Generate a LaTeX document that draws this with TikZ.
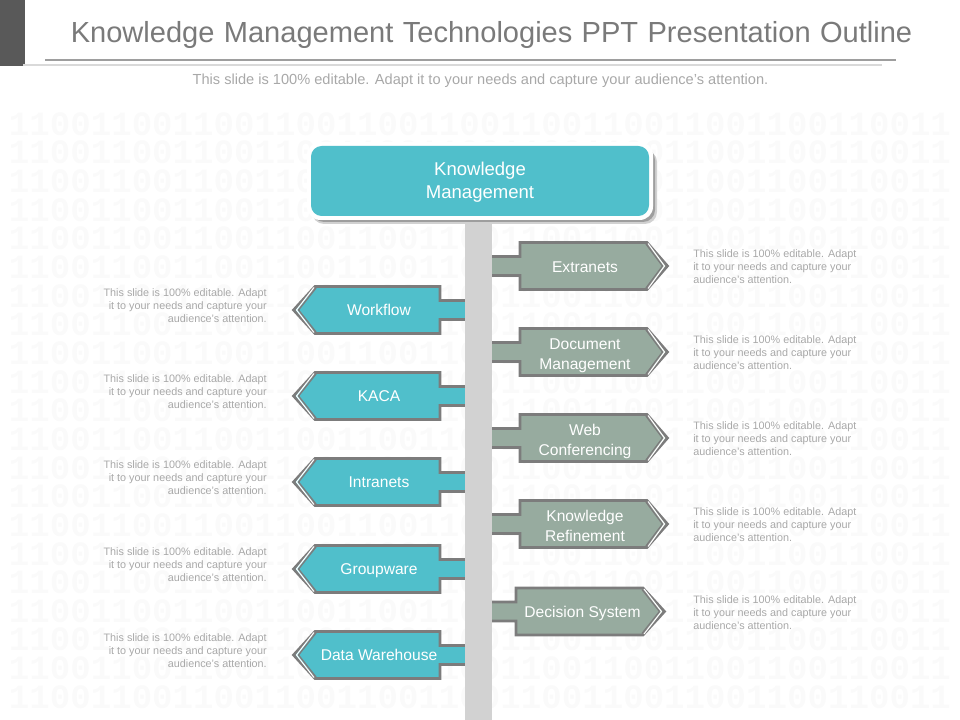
\documentclass[tikz,border=0pt]{standalone}
\usepackage{fontspec}
\setmainfont{Liberation Sans}
\newfontfamily\bitfont{Liberation Mono}
\definecolor{tealfill}{HTML}{50BFCB}
\definecolor{sagefill}{HTML}{97AB9F}
\definecolor{edgegray}{HTML}{7C7C7C}
\definecolor{polegray}{HTML}{D2D2D2}
\definecolor{desctext}{HTML}{A8A8A8}
\definecolor{bitgray}{HTML}{FAFAFA}
\tikzset{
    flagedge/.style={draw=edgegray, line width=2pt, line join=miter},
    flaginner/.style={draw=edgegray, line width=1pt},
    flagtip/.style={draw=white, line width=0.8pt},
    flaglabel/.style={text=white, align=center, inner sep=0pt, execute at begin node=\strut, font=\fontsize{11.7}{15}\selectfont},
    desc/.style={text=desctext, inner sep=0pt, font=\fontsize{8.1}{9.75}\selectfont},
    bits/.style={text=bitgray, inner sep=0pt, font=\bitfont\bfseries\fontsize{25.6}{28}\selectfont}
}
\begin{document}
\begin{tikzpicture}[x=0.75pt, y=-0.75pt]
    \useasboundingbox (0,0) rectangle (960,720);

    % Header
    \fill[black!65] (0,0) rectangle (25,66);
    \fill[black!15] (23,64) rectangle (882,66);
    \fill[black!38] (45,59) rectangle (896,61);
    \node[text=black!52, inner sep=0pt, font=\fontsize{21.8}{26}\selectfont] (title) at (491.5,34.5) {\spaceskip=0.32em\relax Knowledge Management Technologies PPT Presentation Outline};
    \node[text=desctext, inner sep=0pt, font=\fontsize{10.95}{13}\selectfont] (subtitle) at (480.5,81) {This slide is 100\% editable. Adapt it to your needs and capture your audience's attention.};

    % Background rows
    \foreach \row in {0,...,20}
        \node[bits] (bits\row) at (480,124+28.65*\row) {1100110011001100110011001100110011001100110011};

    % Left flags
    \foreach \c/\name/\txt in {310/workflow/Workflow, 396/kaca/KACA, 482/intranets/Intranets, 569/groupware/Groupware, 655/warehouse/Data Warehouse} {
        \draw[flagedge, fill=tealfill] (293.5,\c) -- (315,\c-23.5) -- (440,\c-23.5) -- (440,\c-9.5) -- (470,\c-9.5) -- (470,\c+9.5) -- (440,\c+9.5) -- (440,\c+23.5) -- (315,\c+23.5) -- cycle;
        \draw[flaginner] (316,\c-22) -- (298.5,\c) -- (316,\c+22);
        \draw[flagtip] (314,\c-22.5) -- (296.5,\c) -- (314,\c+22.5);
        \node[flaglabel] (\name) at (379,\c+1.5) {\txt};
        \node[desc, anchor=east, align=right] (\name desc) at (267,\c-4) {This slide is 100\% editable. Adapt\\it to your needs and capture your\\audience's attention.};
    }

    % Right flags
    \foreach \c/\dy/\name/\txt in {266/3/extranets/Extranets, 352/5/document/{Document\\\strut Management}, 438/5/conferencing/{Web\\\strut Conferencing}, 524/5/refinement/{Knowledge\\\strut Refinement}} {
        \draw[flagedge, fill=sagefill] (667.5,\c) -- (647,\c-23.5) -- (520,\c-23.5) -- (520,\c-9.5) -- (488,\c-9.5) -- (488,\c+9.5) -- (520,\c+9.5) -- (520,\c+23.5) -- (647,\c+23.5) -- cycle;
        \draw[flaginner] (646,\c-22) -- (662.5,\c) -- (646,\c+22);
        \draw[flagtip] (648,\c-22.5) -- (664.5,\c) -- (648,\c+22.5);
        \node[flaglabel] (\name) at (585,\c+\dy) {\txt};
        \node[desc, anchor=west, align=left] (\name desc) at (693,\c+1) {This slide is 100\% editable. Adapt\\it to your needs and capture your\\audience's attention.};
    }
    \draw[flagedge, fill=sagefill] (664.5,611.5) -- (643,588) -- (516,588) -- (516,602) -- (488,602) -- (488,621) -- (516,621) -- (516,635) -- (643,635) -- cycle;
    \draw[flaginner] (642,589.5) -- (659.5,611.5) -- (642,633.5);
    \draw[flagtip] (644,589) -- (661.5,611.5) -- (644,634);
    \node[flaglabel] (decision) at (582.5,613) {Decision System};
    \node[desc, anchor=west, align=left] (decision desc) at (693,613) {This slide is 100\% editable. Adapt\\it to your needs and capture your\\audience's attention.};

    % Pole and top box
    \fill[polegray] (465,216) rectangle (492,720);
    \fill[black!18, rounded corners=9pt] (312,150) rectangle (657,224);
    \fill[black!38, rounded corners=9pt] (312,148) rectangle (655,222);
    \fill[white, rounded corners=10pt] (307,142) rectangle (653,220);
    \fill[tealfill, rounded corners=8pt] (311,146) rectangle (649,216);
    \node[text=white, align=center, inner sep=0pt, font=\fontsize{13.9}{17.2}\selectfont] (root) at (480,182.5) {Knowledge\\Management};
\end{tikzpicture}
\end{document}
